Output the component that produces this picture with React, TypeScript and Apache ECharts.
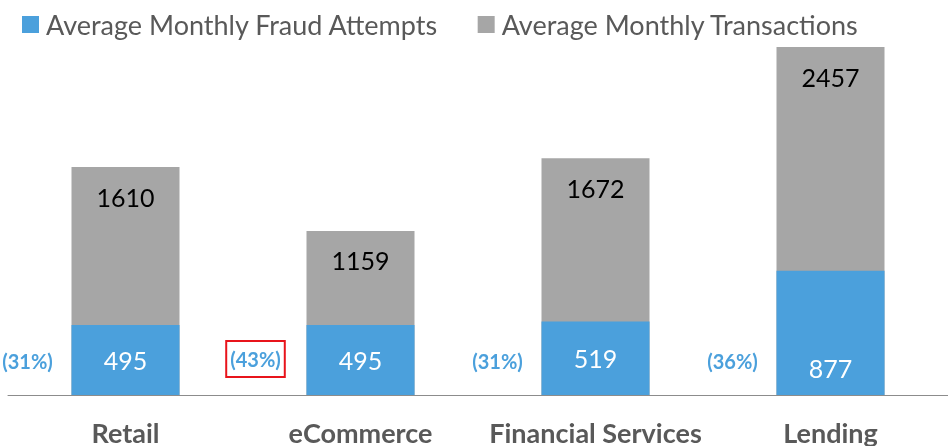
import React, { useEffect, useRef } from "react";
import * as echarts from "echarts";

const categories = ["Retail", "eCommerce", "Financial Services", "Lending"];
const fraudAttempts = [495, 495, 519, 877];
const transactions = [1610, 1159, 1672, 2457];
const shareLabels = ["(31%)", "(43%)", "(31%)", "(36%)"];

const BLUE = "#4BA0DC";
const GRAY = "#A6A6A6";
const FONT = "Lato";

export default function App() {
  const ref = useRef<HTMLDivElement>(null);
  useEffect(() => {
    if (!ref.current) return;
    const chart = echarts.init(ref.current, null, { renderer: "svg" });
    chart.setOption({
      animation: false,
      legend: {
        data: ["Average Monthly Fraud Attempts", "Average Monthly Transactions"],
        left: 17,
        top: 6,
        itemWidth: 17,
        itemHeight: 17,
        itemGap: 39,
        icon: "rect",
        textStyle: { fontFamily: FONT, fontSize: 27, color: "#595959", padding: [0, 0, 0, 2] },
      },
      grid: { left: 8, right: 0, top: 41, bottom: 49 },
      xAxis: {
        type: "category",
        data: categories,
        axisLine: { lineStyle: { color: "#8C8C8C", width: 1 } },
        axisTick: { show: false },
        axisLabel: {
          interval: 0,
          hideOverlap: false,
          fontFamily: FONT,
          fontWeight: "bold",
          fontSize: 27,
          color: "#595959",
          margin: 24,
        },
      },
      yAxis: { type: "value", min: 0, max: 2500, show: false, splitLine: { show: false } },
      series: [
        {
          name: "Average Monthly Transactions",
          type: "bar",
          data: transactions,
          barWidth: 108,
          barGap: "-100%",
          itemStyle: { color: GRAY },
          label: {
            show: true,
            position: "insideTop",
            distance: 17,
            color: "#000000",
            fontFamily: FONT,
            fontSize: 25,
          },
        },
        {
          name: "Average Monthly Fraud Attempts",
          type: "bar",
          data: fraudAttempts.map((v, i) =>
            i === 3
              ? { value: v, label: { position: "insideBottom", distance: 15 } }
              : v
          ),
          barWidth: 108,
          barGap: "-100%",
          itemStyle: { color: BLUE },
          label: {
            show: true,
            position: "inside",
            color: "#FFFFFF",
            fontFamily: FONT,
            fontSize: 25,
          },
        },
        {
          type: "bar",
          data: fraudAttempts.map((v, i) =>
            i === 1
              ? {
                  value: v,
                  label: {
                    borderColor: "#E8141B",
                    borderWidth: 2,
                    padding: [8, 4],
                    offset: [-105, -13],
                  },
                }
              : v
          ),
          barWidth: 108,
          barGap: "-100%",
          silent: true,
          itemStyle: { color: "transparent" },
          label: {
            show: true,
            position: "insideBottom",
            distance: 5,
            offset: [-98, -19],
            formatter: (p: any) => shareLabels[p.dataIndex],
            color: BLUE,
            fontFamily: FONT,
            fontWeight: "bold",
            fontSize: 20,
          },
        },
      ],
    });
    return () => chart.dispose();
  }, []);
  return (
    <div
      ref={ref}
      style={{ position: "fixed", left: 0, top: 0, width: 948, height: 446 }}
    />
  );
}
